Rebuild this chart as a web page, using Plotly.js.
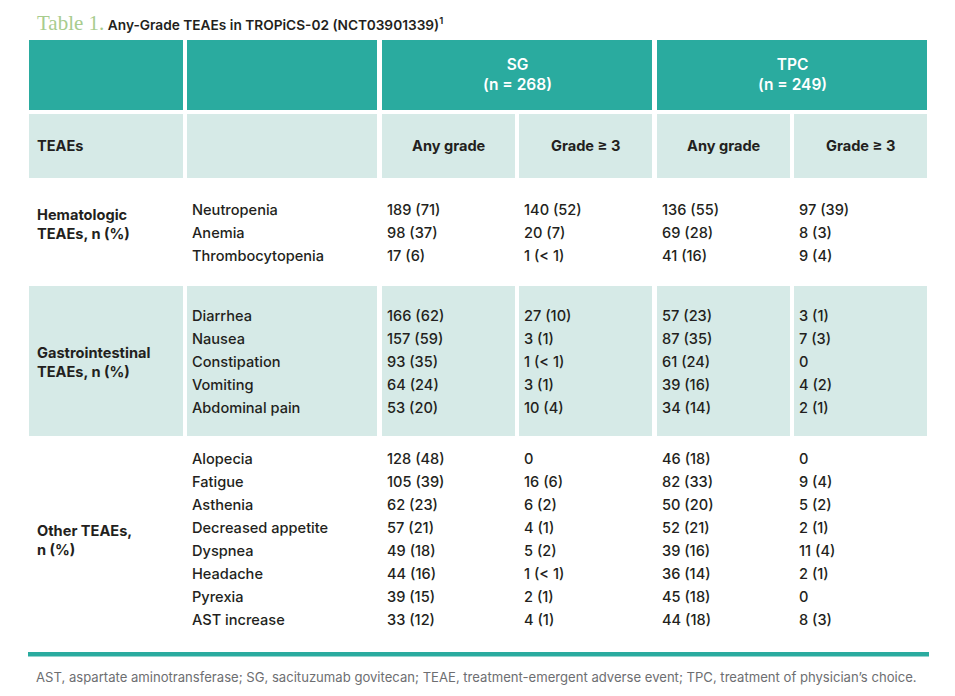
<!DOCTYPE html>
<html>
<head>
<meta charset="utf-8">
<script src="https://cdn.plot.ly/plotly-3.0.1.min.js"></script>
<style>html,body{margin:0;padding:0;background:#fff;}#chart{width:955px;height:696px;}</style>
</head>
<body>
<div id="chart"></div>
<script>
// ---------- data ----------
const sections = ["Hematologic<br>TEAEs, n (%)", "Gastrointestinal<br>TEAEs, n (%)", "Other TEAEs,<br>n (%)"];
const sectionSizes = [3, 5, 8];
const events = ["Neutropenia", "Anemia", "Thrombocytopenia",
  "Diarrhea", "Nausea", "Constipation", "Vomiting", "Abdominal pain",
  "Alopecia", "Fatigue", "Asthenia", "Decreased appetite", "Dyspnea", "Headache", "Pyrexia", "AST increase"];
const sgAny = ["189 (71)", "98 (37)", "17 (6)",
  "166 (62)", "157 (59)", "93 (35)", "64 (24)", "53 (20)",
  "128 (48)", "105 (39)", "62 (23)", "57 (21)", "49 (18)", "44 (16)", "39 (15)", "33 (12)"];
const sgG3 = ["140 (52)", "20 (7)", "1 (< 1)",
  "27 (10)", "3 (1)", "1 (< 1)", "3 (1)", "10 (4)",
  "0", "16 (6)", "6 (2)", "4 (1)", "5 (2)", "1 (< 1)", "2 (1)", "4 (1)"];
const tpcAny = ["136 (55)", "69 (28)", "41 (16)",
  "57 (23)", "87 (35)", "61 (24)", "39 (16)", "34 (14)",
  "46 (18)", "82 (33)", "50 (20)", "52 (21)", "39 (16)", "36 (14)", "45 (18)", "44 (18)"];
const tpcG3 = ["97 (39)", "8 (3)", "9 (4)",
  "3 (1)", "7 (3)", "0", "4 (2)", "2 (1)",
  "0", "9 (4)", "5 (2)", "2 (1)", "11 (4)", "2 (1)", "0", "8 (3)"];
const groupLabels = ["SG<br>(n = 268)", "TPC<br>(n = 249)"];
const subHeaders = ["Any grade", "Grade ≥ 3", "Any grade", "Grade ≥ 3"];
const rowHeader = "TEAEs";
const titleLead = "Table 1.";
const titleText = "Any-Grade TEAEs in TROPiCS-02 (NCT03901339)<sup>1</sup>";
const footnote = "AST, aspartate aminotransferase; SG, sacituzumab govitecan; TEAE, treatment-emergent adverse event; TPC, treatment of physician’s choice.";

// ---------- layout geometry (pixels in data space) ----------
const TEAL = "#2aab9f", LIGHT = "#d6eae7", INK = "#231f20", GREY = "#6d6e71";
const FONT = "Inter, 'Noto Sans', sans-serif";
const colL = [29, 187, 382, 519, 657, 794];
const colR = [183, 377, 515, 652, 790, 927];
const bands = [[178, 286], [286, 436], [436, 650]];
const firstRowY = [210, 316, 459];
const labelY = [224, 362, 540];
const ROWH = 23;

const shapes = [];
function rect(x0, x1, y0, y1, c) {
  shapes.push({type: "rect", xref: "x", yref: "y", x0, x1, y0, y1, fillcolor: c, line: {width: 0}, layer: "below"});
}
// header row 1
rect(colL[0], colR[0], 40, 110, TEAL);
rect(colL[1], colR[1], 40, 110, TEAL);
rect(colL[2], colR[3], 40, 110, TEAL);
rect(colL[4], colR[5], 40, 110, TEAL);
// header row 2
for (let c = 0; c < 6; c++) rect(colL[c], colR[c], 114, 178, LIGHT);
// GI band
for (let c = 0; c < 6; c++) rect(colL[c], colR[c], bands[1][0], bands[1][1], LIGHT);
// bottom rule
rect(28, 929, 652, 656.5, TEAL);

// row positions
const rowY = [];
let k = 0;
sectionSizes.forEach((n, s) => { for (let i = 0; i < n; i++) { rowY[k++] = firstRowY[s] + i * ROWH; } });

const cols = [events, sgAny, sgG3, tpcAny, tpcG3];
const traces = cols.map((arr, ci) => ({
  type: "scatter", mode: "text",
  x: arr.map(() => colL[ci + 1] + 5),
  y: rowY.map(v => v + 1),
  text: arr,
  textposition: "middle right",
  textfont: {family: FONT, size: 14.6, color: INK, weight: 500},
  hoverinfo: "skip", showlegend: false, cliponaxis: false
}));

const ann = [];
function addText(text, x, y, opts) {
  ann.push(Object.assign({xref: "x", yref: "y", x, y, text, showarrow: false,
    xanchor: "left", yanchor: "middle",
    font: {family: FONT, size: 14.6, color: INK, weight: 700}}, opts || {}));
}
// title (serif lead + sans text in one line)
addText('<span style="font-family:\'Liberation Serif\', serif;font-size:21px;font-weight:400;fill:#a8cc8e">' + titleLead + '</span> ' + titleText,
  35, 23, {font: {family: FONT, size: 13.7, color: INK, weight: 600}});
// group headers
addText(groupLabels[0], (colL[2] + colR[3]) / 2, 74, {xanchor: "center", font: {family: FONT, size: 15.5, color: "#ffffff", weight: 600}});
addText(groupLabels[1], (colL[4] + colR[5]) / 2, 74, {xanchor: "center", font: {family: FONT, size: 15.5, color: "#ffffff", weight: 600}});
// sub headers
addText(rowHeader, 35, 146);
subHeaders.forEach((t, i) => addText(t, (colL[i + 2] + colR[i + 2]) / 2, 146, {xanchor: "center"}));
// section labels
sections.forEach((t, s) => addText(t, 35, labelY[s], {align: "left"}));
// footnote
addText(footnote, 34, 677, {font: {family: FONT, size: 13.1, color: GREY, weight: 400}});

const layout = {
  width: 955, height: 696,
  margin: {l: 0, r: 0, t: 0, b: 0},
  paper_bgcolor: "#ffffff", plot_bgcolor: "#ffffff",
  xaxis: {range: [0, 955], visible: false, fixedrange: true},
  yaxis: {range: [696, 0], visible: false, fixedrange: true},
  shapes, annotations: ann, showlegend: false
};
Plotly.newPlot("chart", traces, layout, {displayModeBar: false, staticPlot: true});
</script>
</body>
</html>
